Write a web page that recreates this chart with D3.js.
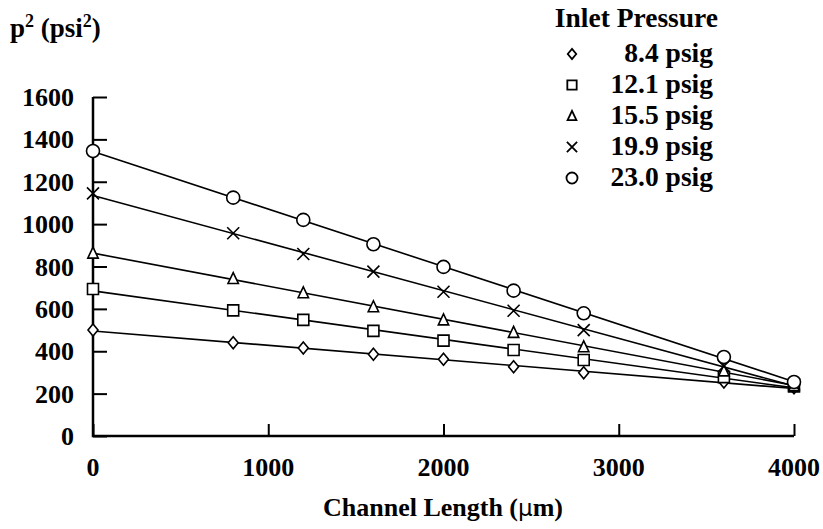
<!DOCTYPE html>
<html>
<head>
<meta charset="utf-8">
<script src="https://cdn.jsdelivr.net/npm/d3@7"></script>
<style>
  body { margin: 0; background: #fff; }
  text { font-family: "Liberation Serif", "Times New Roman", serif; font-weight: bold; fill: #000; }
</style>
</head>
<body>
<svg id="chart" width="823" height="529"></svg>
<script>
// channel positions (um)
const distance = [0, 800, 1200, 1600, 2000, 2400, 2800, 3600, 4000];

// p^2 (psi^2), one array per inlet pressure
const p8_4  = [500, 440, 415, 386, 362, 327, 299, 255, 228];
const p12_1 = [694, 593, 548, 496, 450, 406, 359, 278, 234];
const p15_5 = [863, 743, 676, 610, 548, 489, 421, 307, 238];
const p19_9 = [1145, 957, 859, 776, 681, 591, 500, 330, 244];
const p23_0 = [1345, 1125, 1020, 905, 798, 686, 579, 373, 255];

const seriesNames = ['8.4 psig', '12.1 psig', '15.5 psig', '19.9 psig', '23.0 psig'];
const seriesValues = [p8_4, p12_1, p15_5, p19_9, p23_0];
const markerKinds = ['diamond', 'square', 'triangle', 'cross', 'circle'];

const xTicks = [0, 1000, 2000, 3000, 4000];
const yTicks = [0, 200, 400, 600, 800, 1000, 1200, 1400, 1600];

const svg = d3.select('#chart');

const xScale = d3.scaleLinear().domain([0, 4000]).range([93, 794]);
const yScale = d3.scaleLinear().domain([0, 1600]).range([436, 97]);

// marker paths, s = half size
const markerPath = (kind, s) => {
    if (kind === 'diamond') return `M0,${-s * 1.2}L${s},0L0,${s * 1.2}L${-s},0Z`;
    if (kind === 'square') return `M${-s},${-s}H${s}V${s}H${-s}Z`;
    if (kind === 'triangle') return `M0,${-s * 1.15}L${s},${s * 0.95}L${-s},${s * 0.95}Z`;
    if (kind === 'cross') return `M${-s},${-s}L${s},${s}M${-s},${s}L${s},${-s}`;
    return `M${s},0A${s},${s} 0 1,1 ${-s},0A${s},${s} 0 1,1 ${s},0Z`;
};
const markerSize = { diamond: 5, square: 5.5, triangle: 5.2, cross: 6, circle: 6.5 };

// axes (ticks point inward)
const yAxis = d3.axisRight(yScale).tickValues(yTicks).tickSize(14).tickFormat('');
const gy = svg.append('g')
    .attr('transform', `translate(${xScale(0)},0)`)
    .call(yAxis);
gy.select('.domain').remove();
gy.selectAll('line').attr('stroke', '#000').attr('stroke-width', 2);

const xAxis = d3.axisTop(xScale).tickValues(xTicks).tickSize(12).tickFormat('');
const gx = svg.append('g')
    .attr('transform', `translate(0,${yScale(0)})`)
    .call(xAxis);
gx.select('.domain').remove();
gx.selectAll('line').attr('stroke', '#000').attr('stroke-width', 2);

svg.append('path')
    .attr('d', `M${xScale(0)},${yScale(1600)}V${yScale(0)}H${xScale(4000)}`)
    .attr('fill', 'none')
    .attr('stroke', '#000')
    .attr('stroke-width', 2.5);

// tick labels
svg.append('g').selectAll('text')
    .data(yTicks)
    .join('text')
    .attr('x', 74)
    .attr('y', d => yScale(d) + 9)
    .attr('text-anchor', 'end')
    .attr('font-size', 26)
    .text(d => d);

svg.append('g').selectAll('text')
    .data(xTicks)
    .join('text')
    .attr('x', d => xScale(d))
    .attr('y', 476)
    .attr('text-anchor', 'middle')
    .attr('font-size', 26)
    .text(d => d);

// axis titles
const yTitle = svg.append('text').attr('x', 10).attr('y', 37).attr('font-size', 27);
yTitle.append('tspan').text('p');
yTitle.append('tspan').attr('font-size', 18).attr('dy', -10).text('2');
yTitle.append('tspan').attr('dy', 10).text(' (psi');
yTitle.append('tspan').attr('font-size', 18).attr('dy', -10).text('2');
yTitle.append('tspan').attr('dy', 10).text(')');

const xTitle = svg.append('text').attr('x', 443).attr('y', 516).attr('text-anchor', 'middle').attr('font-size', 26);
xTitle.append('tspan').text('Channel Length (');
xTitle.append('tspan').attr('font-family', 'DejaVu Sans').attr('font-weight', 'normal').attr('font-size', 23).text('\u03bc');
xTitle.append('tspan').text('m)');

// straight least-squares line per series
seriesValues.forEach(vals => {
    const mx = d3.mean(distance), my = d3.mean(vals);
    const sxy = d3.sum(distance, (x, k) => (x - mx) * (vals[k] - my));
    const sxx = d3.sum(distance, x => (x - mx) ** 2);
    const slope = sxy / sxx, icpt = my - slope * mx;
    const ends = [0, 4000].map(x => [x, icpt + slope * x]);

    svg.append('path')
        .datum(ends)
        .attr('d', d3.line().x(d => xScale(d[0])).y(d => yScale(d[1])))
        .attr('fill', 'none')
        .attr('stroke', '#000')
        .attr('stroke-width', 1.6);
});

// markers
seriesValues.forEach((vals, i) => {
    const kind = markerKinds[i];
    svg.append('g').selectAll('path')
        .data(vals)
        .join('path')
        .attr('transform', (d, k) => `translate(${xScale(distance[k])},${yScale(d)})`)
        .attr('d', markerPath(kind, markerSize[kind]))
        .attr('fill', kind === 'cross' ? 'none' : '#fff')
        .attr('stroke', '#000')
        .attr('stroke-width', 1.6);
});

// legend
const legend = svg.append('g');
legend.append('text')
    .attr('x', 718).attr('y', 27)
    .attr('text-anchor', 'end')
    .attr('font-size', 27.5)
    .text('Inlet Pressure');

seriesNames.forEach((name, i) => {
    const baseY = 62 + i * 31;
    const kind = markerKinds[i];
    legend.append('path')
        .attr('transform', `translate(572,${baseY - 8})`)
        .attr('d', markerPath(kind, markerSize[kind] * 0.85))
        .attr('fill', kind === 'cross' ? 'none' : '#fff')
        .attr('stroke', '#000')
        .attr('stroke-width', 1.8);
    legend.append('text')
        .attr('x', 713).attr('y', baseY)
        .attr('text-anchor', 'end')
        .attr('font-size', 27.5)
        .text(name);
});
</script>
</body>
</html>
